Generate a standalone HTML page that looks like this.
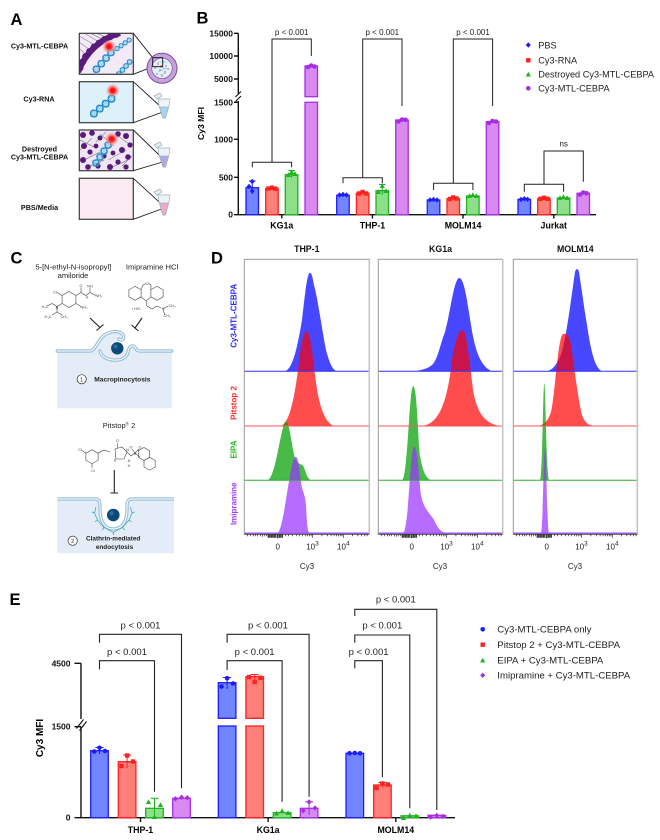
<!DOCTYPE html>
<html><head><meta charset="utf-8"><title>Figure</title>
<style>
html,body{margin:0;padding:0;background:#fff;}
svg{display:block;}
text{font-family:"Liberation Sans",Arial,sans-serif;}
</style></head>
<body>
<svg width="660" height="840" viewBox="0 0 660 840" xmlns="http://www.w3.org/2000/svg">
<defs>
  <g id="helix">
    <path d="M2,-3V3M4,-4V4M6,-4V4M8,-2V2M11,-3V3M13,-4V4M15,-4V4M17,-2V2M20,-3V3M22,-4V4M24,-4V4M26,-2V2M29,-3V3M31,-4V4M33,-4V4M35,-2V2" stroke="#5db5e2" stroke-width="0.8"/>
    <path d="M0,0 C3,-5.5 6,-5.5 9,0 S15,5.5 18,0 S24,-5.5 27,0 S33,5.5 36,0" stroke="#2590cc" fill="none" stroke-width="1.8"/>
    <path d="M0,0 C3,5.5 6,5.5 9,0 S15,-5.5 18,0 S24,5.5 27,0 S33,-5.5 36,0" stroke="#2590cc" fill="none" stroke-width="1.8"/>
  </g>
  <radialGradient id="glow">
    <stop offset="0" stop-color="#ff0000"/>
    <stop offset="0.35" stop-color="#ff2020"/>
    <stop offset="0.6" stop-color="#f77a7a" stop-opacity="0.8"/>
    <stop offset="1" stop-color="#f4a0a0" stop-opacity="0"/>
  </radialGradient>
  <clipPath id="cb1"><rect x="79.3" y="33.3" width="54" height="41"/></clipPath>
  <clipPath id="cb2"><rect x="79.3" y="81.7" width="54" height="41"/></clipPath>
  <clipPath id="cb3"><rect x="79.3" y="130" width="54" height="40.7"/></clipPath>
  <circle id="mc" r="2.3"/>
  <rect id="ms" x="-2.2" y="-2.2" width="4.4" height="4.4"/>
  <polygon id="mt" points="0,-2.8 2.6,2 -2.6,2"/>
  <polygon id="md" points="0,-2.7 2.5,0 0,2.7 -2.5,0"/>
  <g id="axD" stroke="#222" stroke-width="0.7">
    <path d="M3,534.3v2M6,534.3v2M9,534.3v2M11,534.3v2M13,534.3v2M16,534.3v2M18,534.3v2.5M20,534.3v2M22,534.3v2"/>
    <path d="M24,534.3v3.5M25.5,534.3v3.5M27,534.3v3.5M28.5,534.3v3.5M30,534.3v3.5M31.5,534.3v3.5M33.4,534.3v4M35,534.3v3.5M36.5,534.3v3.5M38,534.3v3.5" stroke-width="1.2"/>
    <path d="M41,534.3v2M44,534.3v2M48,534.3v2M52,534.3v2M55,534.3v2M58,534.3v2M61,534.3v2M63,534.3v2M65,534.3v2M66.8,534.3v2M68.4,534.3v3.5M77.6,534.3v2M83,534.3v2M86.8,534.3v2M89.8,534.3v2M92.2,534.3v2M94.3,534.3v2M96,534.3v2M97.6,534.3v2M99,534.3v3.5M108.2,534.3v2M113.6,534.3v2M117.4,534.3v2M120.4,534.3v2M122.8,534.3v2"/>
  </g>
</defs>

<!-- ===================== PANEL LETTERS ===================== -->
<g font-weight="bold" font-size="16.5" fill="#000">
  <text x="10.5" y="25">A</text>
  <text x="196.5" y="23.5">B</text>
  <text x="10.5" y="263.5">C</text>
  <text x="211" y="263.5">D</text>
  <text x="9.5" y="605">E</text>
</g>

<!-- ===================== PANEL A ===================== -->
<g font-weight="bold" font-size="7.2" fill="#111" text-anchor="middle">
  <text x="39.5" y="48.3">Cy3-MTL-CEBPA</text>
  <text x="39" y="101.6">Cy3-RNA</text>
  <text x="39.5" y="151.6">Destroyed</text>
  <text x="39.5" y="159.3">Cy3-MTL-CEBPA</text>
  <text x="39.5" y="209.9">PBS/Media</text>
</g>
<!-- box1 -->
<rect x="79.3" y="33.3" width="54" height="41" fill="#f4e9f6"/>
<g clip-path="url(#cb1)">
  <path d="M79,36 L95,45 M79,42 L90,50 M84,33 L99,42 M90,33 L104,40 M79,48 L86,55 M96,33 L108,38" stroke="#8a8a9a" stroke-width="0.7"/>
  <path d="M78,72 Q90,42 120,33" stroke="#5e1f80" stroke-width="6" fill="none"/>
  <g fill="#5a1a7c">
    <circle cx="80" cy="68" r="3.4"/><circle cx="82.5" cy="62" r="3.4"/><circle cx="85.5" cy="56.5" r="3.4"/>
    <circle cx="89.5" cy="51.5" r="3.4"/><circle cx="94" cy="47" r="3.4"/><circle cx="99" cy="43" r="3.4"/>
    <circle cx="104.5" cy="39.5" r="3.4"/><circle cx="110" cy="36.8" r="3.4"/><circle cx="116" cy="34.5" r="3.4"/>
  </g>
  <use href="#helix" transform="translate(94,72) rotate(-49) scale(0.82)"/>
  <use href="#helix" transform="translate(115,50) rotate(-35) scale(0.55)"/>
  <use href="#helix" transform="translate(117,76) rotate(-48) scale(0.6)"/>
  <circle cx="109" cy="46.5" r="7" fill="url(#glow)"/>
</g>
<rect x="79.3" y="33.3" width="54" height="41" fill="none" stroke="#3a3a3a" stroke-width="1.2"/>
<!-- box2 -->
<rect x="79.3" y="81.7" width="54" height="41" fill="#def0f9"/>
<g clip-path="url(#cb2)">
  <use href="#helix" transform="translate(91,116) rotate(-40) scale(0.85)"/>
  <circle cx="112.7" cy="90.5" r="7" fill="url(#glow)"/>
</g>
<rect x="79.3" y="81.7" width="54" height="41" fill="none" stroke="#3a3a3a" stroke-width="1.2"/>
<!-- box3 -->
<rect x="79.3" y="130" width="54" height="40.7" fill="#efe5f3"/>
<g clip-path="url(#cb3)">
  <path d="M80,140 L96,148 M84,160 L100,152 M100,134 L114,146 M108,160 L126,150 M118,136 L132,146 M80,150 L92,138 M110,168 L128,160 M86,168 L104,160 M122,166 L132,156 M96,142 L106,132" stroke="#8c8c9c" stroke-width="0.7"/>
  <g fill="#5a1a7c">
    <circle cx="83" cy="135" r="3"/><circle cx="92" cy="133" r="2.8"/><circle cx="100" cy="138" r="2.5"/>
    <circle cx="84" cy="146" r="3"/><circle cx="90" cy="152" r="2.6"/><circle cx="83" cy="160" r="3"/>
    <circle cx="88" cy="167" r="2.8"/><circle cx="98" cy="166" r="2.6"/><circle cx="104" cy="156" r="2.6"/>
    <circle cx="118" cy="134" r="2.8"/><circle cx="126" cy="136" r="3"/><circle cx="130" cy="145" r="2.6"/>
    <circle cx="122" cy="150" r="3"/><circle cx="128" cy="157" r="2.8"/><circle cx="118" cy="162" r="2.6"/>
    <circle cx="110" cy="167" r="3"/><circle cx="126" cy="167" r="2.6"/><circle cx="96" cy="146" r="2.4"/>
    <circle cx="113" cy="153" r="2.4"/>
  </g>
  <use href="#helix" transform="translate(94,166) rotate(-56) scale(0.8)"/>
  <circle cx="111.7" cy="139" r="7" fill="url(#glow)"/>
</g>
<rect x="79.3" y="130" width="54" height="40.7" fill="none" stroke="#3a3a3a" stroke-width="1.2"/>
<!-- box4 -->
<rect x="79.3" y="178.3" width="54" height="41" fill="#fbebf2" stroke="#3a3a3a" stroke-width="1.2"/>
<!-- connector lines -->
<g stroke="#222" stroke-width="0.9" fill="none">
  <path d="M133.3,33.3 L152.7,57.7 M133.3,74.3 L152.7,66.7"/>
  <path d="M133.3,81.7 L164.3,110 M133.3,122.7 L164.3,111.5"/>
  <path d="M133.3,130 L164.3,160 M133.3,170.7 L164.3,161.5"/>
  <path d="M133.3,178.3 L164.3,206.7 M133.3,219.3 L164.3,208"/>
</g>
<!-- liposome circle -->
<circle cx="162" cy="68.3" r="15" fill="#c7a3dd" stroke="#7a4a9a" stroke-width="1"/>
<circle cx="162" cy="68.3" r="10.3" fill="#e2f0fa" stroke="#8a5aaa" stroke-width="0.8"/>
<g fill="#e33">
  <circle cx="158" cy="64" r="0.7"/><circle cx="163" cy="62" r="0.7"/><circle cx="166" cy="66" r="0.7"/><circle cx="160" cy="70" r="0.7"/>
  <circle cx="165" cy="72" r="0.7"/><circle cx="157" cy="74" r="0.7"/><circle cx="168" cy="69" r="0.7"/><circle cx="162" cy="76" r="0.7"/>
  <circle cx="155" cy="68" r="0.7"/><circle cx="161" cy="66" r="0.7"/>
</g>
<path d="M157,62 l10,0 M156,66 l12,3 M158,72 l8,-4 M160,75 l6,-2" stroke="#6cbde6" stroke-width="0.6"/>
<rect x="152.7" y="57.7" width="10" height="9" fill="none" stroke="#111" stroke-width="0.9"/>
<!-- tubes -->
<g stroke="#9fb2bd" stroke-width="0.7">
  <g>
    <path d="M154,96 L160,93 L162,96 L157,99 Z" fill="#e8eef2"/>
    <path d="M158,99 L170,99 L169,106 L165.5,118 L163,118 L159,106 Z" fill="#eef4f8"/>
    <path d="M159.5,107 L168.5,107 L165.5,118 L163,118 Z" fill="#a6d3ee"/>
  </g>
  <g>
    <path d="M154,145 L160,142 L162,145 L157,148 Z" fill="#e8eef2"/>
    <path d="M158,148 L170,148 L169,155 L165.5,167 L163,167 L159,155 Z" fill="#eef1f8"/>
    <path d="M159.5,156 L168.5,156 L165.5,167 L163,167 Z" fill="#b3a8e2"/>
  </g>
  <g>
    <path d="M154,192 L160,189 L162,192 L157,195 Z" fill="#e8eef2"/>
    <path d="M158,195 L170,195 L169,202 L165.5,215 L163,215 L159,202 Z" fill="#eef2f6"/>
    <path d="M159.5,203 L168.5,203 L165.5,215 L163,215 Z" fill="#f0a8c8"/>
  </g>
</g>

<!-- ===================== PANEL B ===================== -->
<g font-family="Liberation Sans, Arial, sans-serif">
  <g stroke="#111" stroke-width="1.4" fill="none">
    <path d="M238.3,33.3 V93.5 M238.3,101 V214.7 H596"/>
    <path d="M234,33.3 H238.3 M234,56 H238.3 M234,79 H238.3 M234,102.3 H238.3 M234,139.3 H238.3 M234,177.3 H238.3 M234,214.7 H238.3"/>
    <path d="M235.5,97 L241,91.5 M235.5,101.5 L241,96" stroke-width="1.1"/>
    <path d="M281.75,214.7 V218.5 M372.45,214.7 V218.5 M463.05,214.7 V218.5 M553.75,214.7 V218.5"/>
  </g>
  <g font-size="8.5" font-weight="bold" text-anchor="end" fill="#111">
    <text x="233" y="36.3">15000</text>
    <text x="233" y="59">10000</text>
    <text x="233" y="82">5000</text>
    <text x="233" y="105.3">1500</text>
    <text x="233" y="142.3">1000</text>
    <text x="233" y="180.3">500</text>
    <text x="233" y="217.7">0</text>
  </g>
  <text transform="translate(204,123.5) rotate(-90)" text-anchor="middle" font-size="8.6" font-weight="bold">Cy3 MFI</text>
  <g font-size="8.8" font-weight="bold" text-anchor="middle">
    <text x="281.75" y="228.3">KG1a</text>
    <text x="372.45" y="228.3">THP-1</text>
    <text x="463.05" y="228.3">MOLM14</text>
    <text x="553.75" y="228.3">Jurkat</text>
  </g>
  <g stroke-width="1.3">
    <g fill="#7085ff" stroke="#1c1cff">
      <rect x="246" y="187.7" width="12.5" height="27"/>
      <rect x="336.7" y="195.3" width="12.5" height="19.4"/>
      <rect x="427.3" y="200" width="12.5" height="14.7"/>
      <rect x="518" y="199.3" width="12.5" height="15.4"/>
    </g>
    <g fill="#ff8078" stroke="#ff2020">
      <rect x="265.7" y="188.5" width="12.5" height="26.2"/>
      <rect x="356.4" y="193.3" width="12.5" height="21.4"/>
      <rect x="447" y="198.7" width="12.5" height="16"/>
      <rect x="537.7" y="198.7" width="12.5" height="16"/>
    </g>
    <g fill="#8edf8a" stroke="#1fb31f">
      <rect x="285.3" y="174.7" width="12.5" height="40"/>
      <rect x="376" y="190.7" width="12.5" height="24"/>
      <rect x="466.6" y="196" width="12.5" height="18.7"/>
      <rect x="557.3" y="198" width="12.5" height="16.7"/>
    </g>
    <g fill="#d98af0" stroke="#a62ee0">
      <rect x="305" y="66" width="12.5" height="30.7"/>
      <rect x="305" y="102.3" width="12.5" height="112.4"/>
      <rect x="395.7" y="120" width="12.5" height="94.7"/>
      <rect x="486.3" y="121.7" width="12.5" height="93"/>
      <rect x="577" y="193.3" width="12.5" height="21.4"/>
    </g>
  </g>
  <g stroke-width="1" fill="none">
    <path d="M252.25,181 V194 M249,181 H255.5" stroke="#1c1cff"/>
    <path d="M382.25,184.5 V195 M379,184.5 H385.5" stroke="#1fb31f"/>
    <path d="M291.55,170.5 V178 M288.3,170.5 H294.8" stroke="#1fb31f"/>
  </g>
  <g fill="#1c1cff">
    <use href="#md" x="252.25" y="181.5"/><use href="#md" x="252.25" y="191"/><use href="#md" x="249" y="186.5"/>
    <use href="#md" x="339.5" y="195"/><use href="#md" x="343" y="194.5"/><use href="#md" x="346.5" y="195"/>
    <use href="#md" x="430" y="200"/><use href="#md" x="433.5" y="199.5"/><use href="#md" x="437" y="200"/>
    <use href="#md" x="521" y="199.5"/><use href="#md" x="524.3" y="198.7"/><use href="#md" x="527.5" y="199.3"/>
  </g>
  <g fill="#ff2020">
    <use href="#ms" x="268.5" y="188.5"/><use href="#ms" x="272" y="187.7"/><use href="#ms" x="275.5" y="188.7"/>
    <use href="#ms" x="359" y="193.5"/><use href="#ms" x="362.6" y="192"/><use href="#ms" x="366" y="193.5"/>
    <use href="#ms" x="450" y="199"/><use href="#ms" x="453.2" y="197.5"/><use href="#ms" x="456.5" y="198.5"/>
    <use href="#ms" x="540.5" y="198.8"/><use href="#ms" x="544" y="197.8"/><use href="#ms" x="547.5" y="198.8"/>
  </g>
  <g fill="#1fb31f">
    <use href="#mt" x="288.3" y="175"/><use href="#mt" x="291.5" y="172"/><use href="#mt" x="295" y="174"/>
    <use href="#mt" x="378.5" y="192"/><use href="#mt" x="382.2" y="186"/><use href="#mt" x="386" y="191"/>
    <use href="#mt" x="469.5" y="196"/><use href="#mt" x="472.8" y="195"/><use href="#mt" x="476.3" y="196"/>
    <use href="#mt" x="560" y="198"/><use href="#mt" x="563.5" y="197"/><use href="#mt" x="567" y="198"/>
  </g>
  <g fill="#a62ee0">
    <use href="#mc" x="308" y="67"/><use href="#mc" x="311.2" y="65.5"/><use href="#mc" x="314.5" y="66.5"/>
    <use href="#mc" x="398.5" y="121.5"/><use href="#mc" x="402" y="119.5"/><use href="#mc" x="405.5" y="119.8"/>
    <use href="#mc" x="489" y="123"/><use href="#mc" x="492.5" y="121"/><use href="#mc" x="496" y="121.5"/>
    <use href="#mc" x="580" y="194.5"/><use href="#mc" x="583.2" y="192.5"/><use href="#mc" x="586.5" y="193.3"/>
  </g>
  <g stroke="#222" stroke-width="1" fill="none">
    <path d="M252.3,167.3 V162.3 H291.6 V167.3 M272,162.3 V39 H311.3 V56"/>
    <path d="M343,183.3 V177.7 H382.3 V183.3 M362.7,177.7 V39 H402 V106"/>
    <path d="M433.6,190 V183.3 H472.9 V190 M453.3,183.3 V39 H492.6 V106"/>
    <path d="M524.3,191.7 V184.3 H563.6 V191.7 M544,184.3 V151 H583.3 V181.7"/>
  </g>
  <g font-size="8" text-anchor="middle" fill="#222">
    <text x="291.7" y="35">p &lt; 0.001</text>
    <text x="382.3" y="35">p &lt; 0.001</text>
    <text x="473" y="35">p &lt; 0.001</text>
    <text x="563.7" y="146.5">ns</text>
  </g>
  <use href="#md" x="528.3" y="45" fill="#1c1cff"/>
  <use href="#ms" x="528.3" y="60.3" fill="#ff2020"/>
  <use href="#mt" x="528.3" y="74.5" fill="#1fb31f"/>
  <use href="#mc" x="528.3" y="88.3" fill="#a62ee0"/>
  <g font-size="9.2" fill="#222">
    <text x="538.3" y="48.3">PBS</text>
    <text x="538.3" y="63.6">Cy3-RNA</text>
    <text x="538.3" y="77.3">Destroyed Cy3-MTL-CEBPA</text>
    <text x="538.3" y="91.6">Cy3-MTL-CEBPA</text>
  </g>
</g>

<!-- ===================== PANEL C ===================== -->
<g font-size="7.6" fill="#222" text-anchor="middle">
  <text x="73.3" y="269.5">5-[N-ethyl-N-isopropyl]</text>
  <text x="73" y="278">amiloride</text>
  <text x="152" y="269.5">Imipramine HCl</text>
  <text x="119" y="427.8" font-size="7.5">Pitstop<tspan font-size="4.5" dy="-2.5">®</tspan><tspan dy="2.5"> 2</tspan></text>
</g>
<g stroke="#444" stroke-width="0.6" fill="none">
  <polygon points="69,291.5 75.9,295.5 75.9,303.5 69,307.5 62.1,303.5 62.1,295.5"/>
  <path d="M75.9,295.5 L81,292.5 L81,287.5 M81,292.5 L86,295.5 L90,292.5 L90,288 M90,292.5 L96,295.5"/>
  <path d="M62.1,295.5 L57,292.5 M62.1,303.5 L57,306.5 L52,303.5 L47,306 M57,306.5 L57,312 L52,315 M57,312 L62,315 M75.9,303.5 L81,306.5"/>
</g>
<g font-size="3.8" fill="#444" text-anchor="middle">
  <text x="55" y="293.5">Cl</text><text x="81" y="287">O</text><text x="90" y="287.5">NH</text>
  <text x="99" y="297">NH₂</text><text x="87" y="298.5">H</text><text x="84" y="308.5">NH₂</text>
  <text x="45" y="308">H₃C</text><text x="57" y="309">N</text><text x="48" y="318">H₃C</text><text x="64" y="318">CH₃</text>
</g>
<g stroke="#444" stroke-width="0.6" fill="none">
  <polygon points="135,286.3 141.1,289.8 141.1,296.8 135,300.3 128.9,296.8 128.9,289.8"/>
  <polygon points="157,286.3 163.1,289.8 163.1,296.8 157,300.3 150.9,296.8 150.9,289.8"/>
  <path d="M141.1,289.8 L143,285 L146,283.5 M149,283.5 L151,285 L150.9,289.8 M141.1,296.8 L146,301 L150.9,296.8 M146,301 L147,306 L152,309 L157,306 L161,308"/>
  <path d="M163,309 L168,306 M163,310 L165,315"/>
</g>
<g font-size="3.8" fill="#444" text-anchor="middle">
  <text x="147.5" y="285">O</text><text x="163" y="310">N</text><text x="172" y="307">CH₃</text><text x="167" y="317">CH₃</text><text x="136" y="310">• HCl</text>
</g>
<g stroke="#222" stroke-width="1.1">
  <path d="M90,318 L100,327.5 M96.5,330.5 L103.5,324.5"/>
  <path d="M142,318 L135,328 M131.5,325 L138.5,331"/>
  <path d="M114.3,470 V493 M110.5,493 H118"/>
</g>
<path d="M57.3,351 H90 C96,351 98,338 106,334 C114,330 122,331 123.5,336 C124.5,340 121,341 119,339 L118,342 C113,342 106,344 100,351 C102,362 126,364 128,352 C129,345 134,344 136,349 C137,351 139,351 142,351 H171.7 V408.3 H57.3 Z" fill="#e4edf7"/>
<path d="M108,342 C104,340 100,345 100,351 C102,362 126,364 128,352" fill="#e4edf7"/>
<g fill="none" stroke-linecap="round">
  <path d="M57.3,351 H90 C96,351 98,338 106,334 C114,330 122,331 123.5,336 C124.5,340 121,341 119,339" stroke="#9cc0dc" stroke-width="3.4"/>
  <path d="M100,351 C102,362 126,364 128,352 C129,345 134,344 136,349 C137,351 139,351 142,351 H171.7" stroke="#9cc0dc" stroke-width="3.4"/>
  <path d="M57.3,351 H90 C96,351 98,338 106,334 C114,330 122,331 123.5,336 C124.5,340 121,341 119,339" stroke="#fff" stroke-width="1"/>
  <path d="M100,351 C102,362 126,364 128,352 C129,345 134,344 136,349 C137,351 139,351 142,351 H171.7" stroke="#fff" stroke-width="1"/>
</g>
<circle cx="117.3" cy="348.3" r="6.2" fill="#0d4a78"/>
<circle cx="115.5" cy="346.5" r="2" fill="#2a6fa0"/>
<circle cx="81.7" cy="379.3" r="4.6" fill="#fff" stroke="#333" stroke-width="0.7"/>
<text x="81.7" y="381.4" font-size="5.6" text-anchor="middle" fill="#222">1</text>
<text x="94.3" y="381.7" font-size="6.6" font-weight="bold" fill="#222">Macropinocytosis</text>
<g stroke="#444" stroke-width="0.6" fill="none">
  <polygon points="92,449.7 98.1,453.2 98.1,460.2 92,463.7 85.9,460.2 85.9,453.2"/>
  <path d="M85.9,453.2 L82,450.5 M92,463.7 L92,468 M98.1,453.2 L104,450 L110,452"/>
  <polygon points="115,449 122,447 127,452 124,459 116,459"/>
  <path d="M117.5,448 L117.5,443 M127,452 L131,456 L135,453 M135,453 L132,449 M135,453 L139,449 M135,453 L140,457"/>
  <polygon points="144,447.5 149.6,450.7 149.6,457.2 144,460.5 138.4,457.2 138.4,450.7"/>
  <polygon points="149.6,457.2 155.2,460.5 155.2,467 149.6,470.2 144,467 144,460.5"/>
</g>
<g font-size="3.8" fill="#444" text-anchor="middle">
  <text x="80" y="451">Cl</text><text x="93" y="472">Cl</text><text x="117.5" y="442">O</text><text x="115" y="461.5">S</text>
  <text x="127.5" y="451">N</text><text x="129" y="462">N</text><text x="129" y="467">H</text><text x="135" y="455">S</text>
  <text x="131" y="448.5">O</text><text x="140" y="448.5">O</text>
</g>
<path d="M57.3,499 H95 C100,499 100,503 100,508 C100,524 106,529 113.3,529 C121,529 127,524 127,508 C127,503 127,499 132,499 H174 V553.3 H57.3 Z" fill="#e4edf7"/>
<path d="M57.3,499 H95 C100,499 100,503 100,508 C100,524 106,529 113.3,529 C121,529 127,524 127,508 C127,503 127,499 132,499 H174" fill="none" stroke="#9cc0dc" stroke-width="3.4"/>
<path d="M57.3,499 H95 C100,499 100,503 100,508 C100,524 106,529 113.3,529 C121,529 127,524 127,508 C127,503 127,499 132,499 H174" fill="none" stroke="#fff" stroke-width="1"/>
<path d="M96,507 L94.5,513 L97.5,520 L104,527.5 L113.3,532.5 L122.5,527.5 L129,520 L132,513 L130.5,507 M94.5,513 L92,512 M97.5,520 L95,522 M104,527.5 L102,530 M113.3,532.5 L113.3,535 M122.5,527.5 L125,530 M129,520 L131.5,522 M132,513 L134.5,512" fill="none" stroke="#2aa6ad" stroke-width="0.7"/>
<circle cx="113.3" cy="515" r="6.3" fill="#0d4a78"/>
<circle cx="111.5" cy="513.2" r="2" fill="#2a6fa0"/>
<circle cx="72.7" cy="540.7" r="4.6" fill="#fff" stroke="#333" stroke-width="0.7"/>
<text x="72.7" y="542.8" font-size="5.6" text-anchor="middle" fill="#222">2</text>
<text x="86" y="540.6" font-size="6.4" font-weight="bold" fill="#222">Clathrin-mediated</text>
<text x="114.5" y="548.9" font-size="6.4" font-weight="bold" fill="#222" text-anchor="middle">endocytosis</text>

<!-- ===================== PANEL D ===================== -->
<g font-size="8.8" font-weight="bold" text-anchor="middle" fill="#111">
  <text x="306.8" y="252.2">THP-1</text>
  <text x="440.5" y="252.2">KG1a</text>
  <text x="575.3" y="252.2">MOLM14</text>
</g>
<g font-size="8" font-weight="bold" text-anchor="middle">
  <text transform="translate(236.3,315.8) rotate(-90)" fill="#2a2aff">Cy3-MTL-CEBPA</text>
  <text transform="translate(236.3,403) rotate(-90)" fill="#ff2a2a">Pitstop 2</text>
  <text transform="translate(236.3,449.5) rotate(-90)" fill="#22bb22">EIPA</text>
  <text transform="translate(236.3,503.7) rotate(-90)" fill="#a040ff">Imipramine</text>
</g>
<g fill="#0000ff" fill-opacity="0.72">
  <path d="M284,371.3 C292,371 297,350 302,320 C305,295 307,272.7 310,272.7 C312,272.7 313,280 314,285 C318,300 322,330 326,350 C330,365 333,370 337,371.3 Z"/>
  <path d="M410,371.3 C420,371 428,369 433,364 C438,358 440,345 445,332 C450,315 454,278 459.3,278 C464,278 467,300 471,325 C475,350 480,366 492,371.3 Z"/>
  <path d="M545,371.3 C552,371 556,366 561,355 C566,340 571,300 575,272 C576,268 578,268 579,272 C581,285 583,300 587,325 C591,352 595,368 602,371.3 Z"/>
</g>
<g fill="#ff0000" fill-opacity="0.7">
  <path d="M280,426 C289,425 294,400 298,370 C301,345 303,331.7 306.7,331.7 C310,331.7 312,350 315,375 C318,400 323,422 334,426 Z"/>
  <path d="M421,426 C438,425 447,405 452,360 C455,340 459,330 462.7,330 C466,330 469,355 473,390 C477,415 487,425 502,426 Z"/>
  <path d="M538,426 C544,425 548,421 551,412 C555,395 558,336 563,334 C566,333 569,334 571,345 C574,365 578,400 582,415 C585,423 588,425 595,426 Z"/>
</g>
<g fill="#00a000" fill-opacity="0.72">
  <path d="M267,480.3 C276,480 281,421.7 286,421.7 C290,421.7 292,452 296,460 C299,465 301,464 302.5,465 C305,467 306,478 311,480.3 Z"/>
  <path d="M402,480.3 C408,478 409,386.3 413.3,386.3 C417,386.3 418,440 420,456 C423,472 426,479 432,480.3 Z"/>
  <path d="M540,480.3 C542.5,478 543,383.3 544.3,383.3 C545.6,383.3 546,470 549,480.3 Z"/>
</g>
<g fill="#9933ff" fill-opacity="0.72">
  <path d="M277,533.3 C284,533 290,456.7 295.7,456.7 C299,456.7 300,478 302,488 C304,494 305,496 306,505 C307,522 307,532 310,533.3 Z"/>
  <path d="M403,533.3 C409,530 410,446.7 414,446.7 C418,446.7 419,480 421,495 C424,510 430,513 434,520 C438,528 440,532 447,533.3 Z"/>
  <path d="M541,533.3 C543,530 543.5,448.3 545,448.3 C546.5,448.3 547,530 549,533.3 Z"/>
</g>
<g stroke-width="1">
  <path d="M244.3,371.3 H369.3 M378.3,371.3 H502.7 M513.3,371.3 H637.3" stroke="#3030ff"/>
  <path d="M244.3,426 H369.3 M378.3,426 H502.7 M513.3,426 H637.3" stroke="#ff5555"/>
  <path d="M244.3,480.3 H369.3 M378.3,480.3 H502.7 M513.3,480.3 H637.3" stroke="#30b030"/>
  <path d="M244.3,533.3 H369.3 M378.3,533.3 H502.7 M513.3,533.3 H637.3" stroke="#a050ff" stroke-width="1.6"/>
</g>
<g fill="none" stroke="#9a9a9a" stroke-width="1">
  <rect x="244.3" y="259.3" width="125" height="275"/>
  <rect x="378.3" y="259.3" width="124.4" height="275"/>
  <rect x="513.3" y="259.3" width="124" height="275"/>
</g>
<path d="M369.3,259.3 V534.3 M502.7,259.3 V534.3 M637.3,259.3 V534.3" stroke="#c4c4c4" stroke-width="1.6"/>
<path d="M244.3,534.3 H369.3 M378.3,534.3 H502.7 M513.3,534.3 H637.3" stroke="#555" stroke-width="0.8"/>
<use href="#axD" x="244.3"/>
<use href="#axD" x="378.3"/>
<use href="#axD" x="513.3"/>
<g font-size="8" fill="#222" text-anchor="middle">
  <text x="277.7" y="549.6">0</text>
  <text x="312.5" y="549.6">10<tspan font-size="6.5" dy="-4">3</tspan></text>
  <text x="343.3" y="549.6">10<tspan font-size="6.5" dy="-4">4</tspan></text>
  <text x="411.7" y="549.6">0</text>
  <text x="446.5" y="549.6">10<tspan font-size="6.5" dy="-4">3</tspan></text>
  <text x="477.3" y="549.6">10<tspan font-size="6.5" dy="-4">4</tspan></text>
  <text x="546.7" y="549.6">0</text>
  <text x="581.5" y="549.6">10<tspan font-size="6.5" dy="-4">3</tspan></text>
  <text x="612.3" y="549.6">10<tspan font-size="6.5" dy="-4">4</tspan></text>
  <text x="307" y="569">Cy3</text>
  <text x="440" y="569">Cy3</text>
  <text x="575" y="569">Cy3</text>
</g>

<!-- ===================== PANEL E ===================== -->
<g stroke="#111" stroke-width="1.4" fill="none">
  <path d="M81,663.3 V719 M81,726.5 V817.7 H455"/>
  <path d="M74.5,663.3 H81 M74.5,726.7 H81 M74.5,817.7 H81"/>
  <path d="M76.5,728.5 L83.5,719.5 M79.5,730.5 L86.5,721.5" stroke-width="1.1"/>
  <path d="M140.5,817.7 V822 M268.1,817.7 V822 M395.8,817.7 V822"/>
</g>
<g font-size="8.5" font-weight="bold" text-anchor="end" fill="#111">
  <text x="70.5" y="666.3">4500</text>
  <text x="70.5" y="729.7">1500</text>
  <text x="70.5" y="820.7">0</text>
</g>
<text transform="translate(42.8,738) rotate(-90)" text-anchor="middle" font-size="10" font-weight="bold">Cy3 MFI</text>
<g font-size="8.8" font-weight="bold" text-anchor="middle">
  <text x="140.5" y="833.2">THP-1</text>
  <text x="268.1" y="833.2">KG1a</text>
  <text x="395.8" y="833.2">MOLM14</text>
</g>
<g stroke-width="1.3">
  <g fill="#7085ff" stroke="#1c1cff">
    <rect x="90.7" y="750.7" width="17.6" height="67"/>
    <rect x="218.3" y="682.7" width="17.6" height="35.6"/>
    <rect x="218.3" y="726" width="17.6" height="91.7"/>
    <rect x="346" y="753.3" width="17.6" height="64.4"/>
  </g>
  <g fill="#ff8078" stroke="#ff2020">
    <rect x="118.3" y="761.7" width="17.6" height="56"/>
    <rect x="245.9" y="676.7" width="17.6" height="41.6"/>
    <rect x="245.9" y="726" width="17.6" height="91.7"/>
    <rect x="373.6" y="785" width="17.6" height="32.7"/>
  </g>
  <g fill="#8edf8a" stroke="#1fb31f">
    <rect x="145.7" y="808.3" width="17.6" height="9.4"/>
    <rect x="273.3" y="812.7" width="17.6" height="5"/>
    <rect x="401" y="815.8" width="17.6" height="1.9"/>
  </g>
  <g fill="#d98af0" stroke="#a62ee0">
    <rect x="172.7" y="798.3" width="17.6" height="19.4"/>
    <rect x="300.3" y="808.3" width="17.6" height="9.4"/>
    <rect x="428" y="815.3" width="17.6" height="2.4"/>
  </g>
</g>
<g stroke-width="1" fill="none">
  <path d="M99.5,747.5 V754 M95.5,747.5 H103.5" stroke="#1c1cff"/>
  <path d="M227.1,677.5 V689 M223.1,677.5 H231.1" stroke="#1c1cff"/>
  <path d="M127.1,755 V768 M123.1,755 H131.1" stroke="#ff2020"/>
  <path d="M254.7,674.5 V682 M250.7,674.5 H258.7" stroke="#ff2020"/>
  <path d="M154.5,798.3 V817.7 M150.5,798.3 H158.5" stroke="#1fb31f"/>
  <path d="M309.1,801.7 V815 M305.1,801.7 H313.1" stroke="#a62ee0"/>
  <path d="M382.4,782.5 V787.5 M378.4,782.5 H386.4" stroke="#ff2020"/>
</g>
<g fill="#1c1cff">
  <use href="#mc" x="94.3" y="751.5"/><use href="#mc" x="99.5" y="747.8"/><use href="#mc" x="105" y="751"/>
  <use href="#mc" x="221.5" y="686.5"/><use href="#mc" x="227.1" y="678.2"/><use href="#mc" x="233" y="683.5"/>
  <use href="#mc" x="349.5" y="753.3"/><use href="#mc" x="354.8" y="753"/><use href="#mc" x="360" y="753.3"/>
</g>
<g fill="#ff2020">
  <use href="#ms" x="121.5" y="766"/><use href="#ms" x="127.1" y="755.5"/><use href="#ms" x="133" y="761.5"/>
  <use href="#ms" x="249" y="677"/><use href="#ms" x="254.7" y="682"/><use href="#ms" x="260.5" y="677.8"/>
  <use href="#ms" x="376.5" y="788"/><use href="#ms" x="382.4" y="783.5"/><use href="#ms" x="388" y="784.5"/>
</g>
<g fill="#1fb31f">
  <use href="#mt" x="148.5" y="802"/><use href="#mt" x="154.5" y="817"/><use href="#mt" x="160.5" y="805"/>
  <use href="#mt" x="276.5" y="813.5"/><use href="#mt" x="282.1" y="811"/><use href="#mt" x="288" y="813"/>
  <use href="#mt" x="403.5" y="818"/><use href="#mt" x="409.8" y="815.5"/><use href="#mt" x="416" y="816"/>
</g>
<g fill="#a62ee0">
  <use href="#md" x="175.5" y="798.8"/><use href="#md" x="181.5" y="797.3"/><use href="#md" x="187.3" y="797.8"/>
  <use href="#md" x="303.3" y="810.7"/><use href="#md" x="309.1" y="802"/><use href="#md" x="315" y="808"/>
  <use href="#md" x="430.5" y="817"/><use href="#md" x="436.8" y="815.5"/><use href="#md" x="443" y="816.5"/>
</g>
<g stroke="#222" stroke-width="1.1" fill="none">
  <path d="M99.5,669.3 V660.7 H154.5 V791.7"/>
  <path d="M99.5,642.7 V634.3 H181.5 V788.3"/>
  <path d="M227.1,670 V660.7 H282.1 V801.7"/>
  <path d="M227.1,642.7 V634.3 H309.1 V796.7"/>
  <path d="M354.8,668.3 V660.7 H382.4 V777.3"/>
  <path d="M354.8,642.7 V635 H409.8 V808.3"/>
  <path d="M354.8,616 V609.3 H436.8 V810"/>
</g>
<g font-size="9.5" text-anchor="middle" fill="#222">
  <text x="127" y="655">p &lt; 0.001</text>
  <text x="140.5" y="628.3">p &lt; 0.001</text>
  <text x="254.6" y="655">p &lt; 0.001</text>
  <text x="268" y="628.3">p &lt; 0.001</text>
  <text x="368.6" y="655">p &lt; 0.001</text>
  <text x="382.3" y="628.3">p &lt; 0.001</text>
  <text x="395.8" y="602.3">p &lt; 0.001</text>
</g>
<use href="#mc" x="482.7" y="629.3" fill="#1c1cff"/>
<use href="#ms" x="482.7" y="644.7" fill="#ff2020"/>
<use href="#mt" x="482.7" y="660.5" fill="#1fb31f"/>
<use href="#md" x="482.7" y="675.3" fill="#a62ee0"/>
<g font-size="9.6" fill="#222">
  <text x="497.3" y="632.7">Cy3-MTL-CEBPA only</text>
  <text x="497.3" y="648.1">Pitstop 2 + Cy3-MTL-CEBPA</text>
  <text x="497.3" y="663.4">EIPA + Cy3-MTL-CEBPA</text>
  <text x="497.3" y="678.7">Imipramine + Cy3-MTL-CEBPA</text>
</g>
</svg>
</body></html>
